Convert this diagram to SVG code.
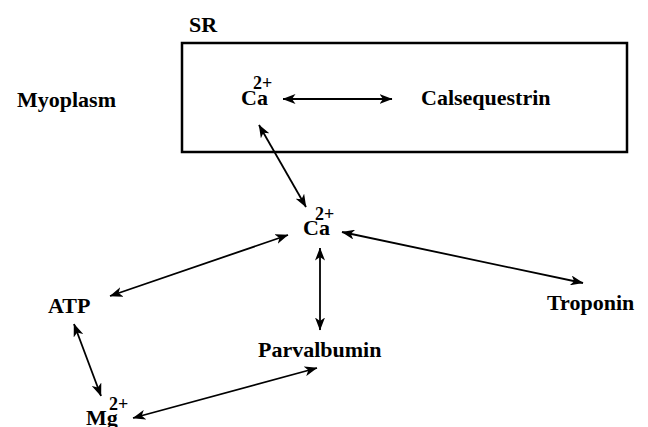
<svg xmlns="http://www.w3.org/2000/svg" width="648" height="427" viewBox="0 0 648 427">
<defs>
<style>
text{font-family:"Liberation Serif","Times New Roman",serif;font-weight:bold;font-size:22px;fill:#000}
.sup{font-size:18px}
.c{stroke:#000;stroke-width:1.8;fill:none;marker-start:url(#ah);marker-end:url(#ah)}
</style>
<marker id="ah" viewBox="0 0 13 10" refX="12.5" refY="5" markerWidth="13" markerHeight="10" markerUnits="userSpaceOnUse" orient="auto-start-reverse">
<path d="M0,0 L13,5 L0,10 L3.5,5 z" fill="#000"/>
</marker>
</defs>
<rect width="648" height="427" fill="#fff"/>
<g id="sr">
<rect x="182" y="43" width="445" height="109" fill="none" stroke="#000" stroke-width="2.5"/>
<text x="189" y="32">SR</text>
</g>
<g id="myoplasm"><text x="17" y="107">Myoplasm</text></g>
<g id="ca-sr"><text x="241" y="105">Ca<tspan class="sup" x="253" dy="-16">2+</tspan></text></g>
<g id="calsequestrin"><text x="421" y="105">Calsequestrin</text></g>
<g id="ca-myo"><text x="303" y="235">Ca<tspan class="sup" x="315" dy="-15">2+</tspan></text></g>
<g id="atp"><text x="48" y="313">ATP</text></g>
<g id="troponin"><text x="547" y="310">Troponin</text></g>
<g id="parvalbumin"><text x="258" y="357">Parvalbumin</text></g>
<g id="mg"><text x="86" y="425">Mg<tspan class="sup" x="109" dy="-15">2+</tspan></text></g>
<g id="connectors">
<line class="c" x1="283" y1="99" x2="392" y2="99"/>
<line class="c" x1="259" y1="125" x2="306" y2="207"/>
<line class="c" x1="288" y1="235" x2="110" y2="296"/>
<line class="c" x1="342" y1="232" x2="583" y2="283"/>
<line class="c" x1="320" y1="248" x2="320" y2="330"/>
<line class="c" x1="74" y1="324" x2="101" y2="396"/>
<line class="c" x1="133" y1="418" x2="317" y2="368"/>
</g>
</svg>
